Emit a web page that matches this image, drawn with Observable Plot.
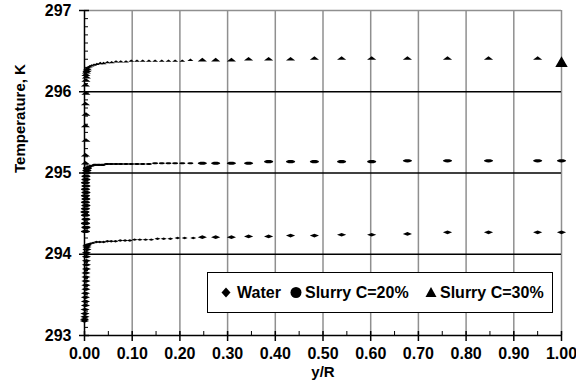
<!DOCTYPE html>
<html><head><meta charset="utf-8">
<script src="https://cdn.jsdelivr.net/npm/d3@7"></script>
<script src="https://cdn.jsdelivr.net/npm/@observablehq/plot@0.6"></script>
<style>
body{margin:0;background:#fff;}
#wrap{position:relative;width:576px;height:392px;font-family:"Liberation Sans",Arial,sans-serif;}
#legend{position:absolute;left:207px;top:272px;width:346px;height:41px;border:1px solid #000;background:#fff;box-sizing:border-box;font-weight:bold;font-size:16px;color:#000;}
#legend .it{position:absolute;top:0;height:39px;line-height:39px;white-space:nowrap;}
#legend svg{position:absolute;top:0;}
</style></head>
<body><div id="wrap"></div>
<script>
// ---- data ----
const xTicks = [0,0.1,0.2,0.3,0.4,0.5,0.6,0.7,0.8,0.9,1.0];
const yTicks = [293,294,295,296,297];

const waterX = [0.0,0.0,0.001,0.001,0.001,0.002,0.002,0.002,0.002,0.003,0.003,0.003,0.003,0.003,0.004,0.004,0.004,0.004,0.004,0.005,0.005,0.005,
  0.008,0.012,0.018,0.025,0.032,0.04,0.048,0.056,0.065,0.075,0.085,0.095,0.105,0.116,0.128,0.14,0.153,0.166,0.18,0.195,0.21,0.228,
  0.247,0.275,0.308,0.344,0.386,0.432,0.482,0.539,0.602,0.677,0.761,0.847,0.95,1.0];
const waterT = [293.18,293.2,293.23,293.27,293.32,293.37,293.42,293.47,293.52,293.57,293.62,293.67,293.72,293.77,293.82,293.87,293.92,293.97,294.02,294.06,294.09,294.11,
  294.12,294.13,294.14,294.15,294.15,294.15,294.16,294.16,294.16,294.17,294.17,294.17,294.18,294.18,294.18,294.18,294.19,294.19,294.19,294.2,294.2,294.2,
  294.21,294.21,294.21,294.22,294.22,294.23,294.23,294.24,294.24,294.25,294.27,294.27,294.27,294.27];

const s20X = [0.002,0.003,0.002,0.003,0.002,0.001,0.002,0.003,0.002,0.003,0.002,0.003,0.002,0.003,0.002,0.003,0.003,0.004,0.005,0.006,
  0.01,0.015,0.022,0.03,0.038,0.047,0.056,0.066,0.076,0.087,0.098,0.11,0.122,0.135,0.148,0.162,0.176,0.19,0.205,0.222,
  0.247,0.275,0.308,0.344,0.386,0.432,0.482,0.539,0.602,0.677,0.761,0.847,0.95,1.0];
const s20T = [294.28,294.33,294.38,294.43,294.48,294.52,294.56,294.6,294.64,294.68,294.72,294.76,294.8,294.84,294.88,294.92,294.96,295.0,295.03,295.06,
  295.08,295.09,295.1,295.1,295.1,295.11,295.11,295.11,295.11,295.11,295.11,295.11,295.11,295.11,295.12,295.12,295.12,295.12,295.12,295.12,
  295.12,295.12,295.12,295.12,295.14,295.14,295.14,295.14,295.14,295.15,295.15,295.15,295.15,295.15];

const s30X = [0.002,0.002,0.003,0.002,0.003,0.002,0.003,0.002,0.003,0.004,0.003,0.004,0.005,0.006,0.008,
  0.011,0.015,0.02,0.026,0.033,0.04,0.048,0.057,0.066,0.076,0.087,0.098,0.11,0.122,0.135,0.148,0.162,0.176,0.19,0.205,0.222,
  0.247,0.275,0.308,0.344,0.386,0.432,0.482,0.539,0.602,0.677,0.761,0.847,0.95];
const s30T = [295.12,295.22,295.4,295.58,295.72,295.85,295.98,296.08,296.14,296.18,296.21,296.24,296.26,296.28,296.3,
  296.31,296.32,296.33,296.34,296.35,296.35,296.36,296.36,296.37,296.37,296.37,296.38,296.38,296.38,296.38,296.38,296.38,296.38,296.38,296.38,296.39,
  296.39,296.39,296.39,296.4,296.4,296.4,296.41,296.41,296.41,296.41,296.41,296.41,296.41];
const s30EndX = [1.0];
const s30EndT = [296.35];

const seriesNames = ["Water","Slurry C=20%","Slurry C=30%"];

// ---- build ----
const toRows = (xs, ts) => xs.map((x, i) => ({x, t: ts[i]}));
const water = toRows(waterX, waterT), s20 = toRows(s20X, s20T), s30 = toRows(s30X, s30T), s30End = toRows(s30EndX, s30EndT);

const FLAT = 0.4;
const flatDiamond = {draw(c, size){const r=Math.sqrt(size/Math.PI),h=r*FLAT;c.moveTo(-r,0);c.lineTo(0,-h);c.lineTo(r,0);c.lineTo(0,h);c.closePath();}};
const flatCircle = {draw(c, size){const rx=Math.sqrt(size/Math.PI),ry=rx*FLAT*0.85,k=0.5523;
  c.moveTo(rx,0);c.bezierCurveTo(rx,ry*k,rx*k,ry,0,ry);c.bezierCurveTo(-rx*k,ry,-rx,ry*k,-rx,0);
  c.bezierCurveTo(-rx,-ry*k,-rx*k,-ry,0,-ry);c.bezierCurveTo(rx*k,-ry,rx,-ry*k,rx,0);c.closePath();}};
const flatTriangle = {draw(c, size){const r=Math.sqrt(size/Math.PI),h=r*FLAT*1.2;c.moveTo(0,-h);c.lineTo(r,h*0.6);c.lineTo(-r,h*0.6);c.closePath();}};

const rOf = d => (d.x > 0.007 && d.x < 0.23) ? 3 : 4.6;
const innerW = 576 - 84 - 15, innerH = 392 - 10 - 57;
const xMinor = d3.range(1, 20, 2).map(i => i / 20);
const yMinor = d3.range(2930, 2971).filter(v => v % 10 !== 0).map(v => v / 10);

const chart = Plot.plot({
  width: 576, height: 392,
  marginLeft: 84, marginRight: 15, marginTop: 10, marginBottom: 57,
  x: {domain: [0, 1]},
  y: {domain: [293, 297]},
  r: {type: "identity"},
  style: {fontFamily: "'Liberation Sans', Arial, sans-serif", fontWeight: "bold", fontSize: "16px", background: "#fff", color: "#000"},
  marks: [
    Plot.ruleX(xTicks.slice(1), {x: d => d, stroke: "#8f8f8f", strokeWidth: 1.5}),
    Plot.ruleY([297], {y: d => d, stroke: "#8f8f8f", strokeWidth: 1.5}),
    Plot.ruleY([294, 295, 296], {y: d => d, stroke: "#000", strokeWidth: 1.5}),
    Plot.tickY(yMinor, {y: d => d, insetRight: innerW - 4, stroke: "#000"}),
    Plot.tickY(yTicks, {y: d => d, insetRight: innerW - 5, stroke: "#000", strokeWidth: 1.5}),
    Plot.tickX(xMinor, {x: d => d, insetTop: innerH - 4, stroke: "#000"}),
    Plot.tickX(xTicks, {x: d => d, insetTop: innerH - 4, stroke: "#000", strokeWidth: 1.5}),
    Plot.axisX({ticks: xTicks, tickFormat: d => d.toFixed(2), tickSize: 6, tickPadding: 6, label: null, fontSize: 16, fontWeight: "bold", strokeWidth: 1.5}),
    Plot.axisY({ticks: yTicks, tickFormat: d => String(d), tickSize: 5, tickPadding: 8, label: null, fontSize: 16, fontWeight: "bold", strokeWidth: 1.5}),
    Plot.ruleX([0], {x: d => d, stroke: "#000", strokeWidth: 1.5}),
    Plot.ruleY([293], {y: d => d, stroke: "#000", strokeWidth: 1.5}),
    Plot.dot(water, {x: "x", y: "t", r: rOf, symbol: flatDiamond, fill: "#000", stroke: "none"}),
    Plot.dot(s20, {x: "x", y: "t", r: rOf, symbol: flatCircle, fill: "#000", stroke: "none"}),
    Plot.dot(s30, {x: "x", y: "t", r: rOf, symbol: flatTriangle, fill: "#000", stroke: "none"}),
    Plot.dot(s30End, {x: "x", y: "t", r: 4.6, symbol: "triangle", fill: "#000", stroke: "none"}),
    Plot.text(["Temperature, K"], {frameAnchor: "left", rotate: -90, dx: -64, fontSize: 15, fontWeight: "bold"}),
    Plot.text(["y/R"], {frameAnchor: "bottom", dy: 41, fontSize: 15, fontWeight: "bold"})
  ]
});

const wrap = document.getElementById("wrap");
wrap.appendChild(chart);

// legend inside plot area
const lg = document.createElement("div");
lg.id = "legend";
const icons = [
  '<svg width="12" height="39" style="left:12px"><path d="M6,14.5 L10.5,19.5 L6,24.5 L1.5,19.5Z" fill="#000"/></svg>',
  '<svg width="14" height="39" style="left:81px"><circle cx="7" cy="19.5" r="5.5" fill="#000"/></svg>',
  '<svg width="14" height="39" style="left:216px"><path d="M7,14 L12.5,24 L1.5,24Z" fill="#000"/></svg>'
];
const lefts = [29, 97, 232];
seriesNames.forEach((name, i) => {
  lg.insertAdjacentHTML("beforeend", icons[i]);
  const s = document.createElement("span");
  s.className = "it"; s.style.left = lefts[i] + "px"; s.textContent = name;
  lg.appendChild(s);
});
wrap.appendChild(lg);
</script></body></html>
